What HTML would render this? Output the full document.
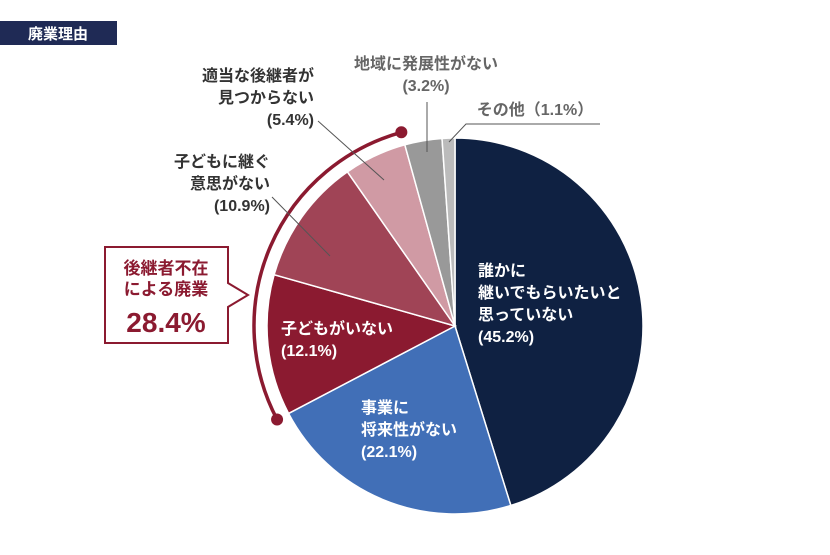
<!DOCTYPE html>
<html><head><meta charset="utf-8">
<style>
body{margin:0;background:#fff;width:830px;height:550px;overflow:hidden;font-family:"Liberation Sans","Noto Sans CJK JP",sans-serif;}
svg text{font-family:"Liberation Sans","Noto Sans CJK JP",sans-serif;font-weight:bold;}
</style></head><body>
<svg width="830" height="550">
<rect x="0" y="21" width="117" height="24" fill="#1f2a55"/>
<text x="58" y="39" fill="#fff" font-size="15" text-anchor="middle">廃業理由</text>
<g id="slices"></g>
</svg>
<script>
const categories=["誰かに継いでもらいたいと思っていない","事業に将来性がない","子どもがいない","子どもに継ぐ意思がない","適当な後継者が見つからない","地域に発展性がない","その他"];
const values=[45.2,22.1,12.1,10.9,5.4,3.2,1.1];
const colors=["#0f2142","#416fb7","#8b1a30","#a04456","#d09aa4","#999999","#bbbbbb"];
const cx=455,cy=326,R=188;
const NS="http://www.w3.org/2000/svg";
const total=values.reduce((a,b)=>a+b,0);
function pt(frac,r){const a=frac*2*Math.PI;return [cx+r*Math.sin(a),cy-r*Math.cos(a)];}
const g=document.getElementById('slices');
let acc=0;const starts=[];
values.forEach((v,i)=>{
 const s=acc/total,e=(acc+v)/total;starts.push(s);acc+=v;
 const p1=pt(s,R),p2=pt(e,R);
 const p=document.createElementNS(NS,'path');
 p.setAttribute('d',`M${cx},${cy}L${p1[0]},${p1[1]}A${R},${R} 0 ${e-s>0.5?1:0} 1 ${p2[0]},${p2[1]}Z`);
 p.setAttribute('fill',colors[i]);p.setAttribute('stroke','#fff');p.setAttribute('stroke-width','1.5');
 
 
 g.appendChild(p);
});
const as=starts[2],ae=starts[4]+values[4]/total,AR=201;
const q1=pt(as,AR),q2=pt(ae,AR);
const arc=document.createElementNS(NS,'path');
arc.setAttribute('d',`M${q1[0]},${q1[1]}A${AR},${AR} 0 0 1 ${q2[0]},${q2[1]}`);
arc.setAttribute('fill','none');arc.setAttribute('stroke','#8b1a30');arc.setAttribute('stroke-width','3.5');


g.appendChild(arc);
[q1,q2].forEach(q=>{const c=document.createElementNS(NS,'circle');c.setAttribute('cx',q[0]);c.setAttribute('cy',q[1]);c.setAttribute('r',6);c.setAttribute('fill','#8b1a30');


g.appendChild(c);});
</script>
<svg width="830" height="550" style="position:absolute;left:0;top:0">
<g stroke="#555" stroke-width="1" fill="none">
<line x1="318" y1="121" x2="384" y2="180"/>
<line x1="272" y1="197" x2="330" y2="256"/>
<line x1="427" y1="102" x2="427" y2="152"/>
<polyline points="449,142 466,124 600,124"/>
</g>
<g font-size="16" fill="#fff">
<text><tspan x="478" y="276">誰かに</tspan><tspan x="478" dy="22">継いでもらいたいと</tspan><tspan x="478" dy="22">思っていない</tspan><tspan x="478" dy="22">(45.2%)</tspan></text>
<text><tspan x="361" y="413">事業に</tspan><tspan x="361" dy="22">将来性がない</tspan><tspan x="361" dy="22">(22.1%)</tspan></text>
<text><tspan x="281" y="334">子どもがいない</tspan><tspan x="281" dy="22">(12.1%)</tspan></text>
</g>
<g font-size="16" fill="#333" text-anchor="end">
<text><tspan x="314" y="81">適当な後継者が</tspan><tspan x="314" y="103">見つからない</tspan><tspan x="314" y="125">(5.4%)</tspan></text>
<text><tspan x="270" y="167">子どもに継ぐ</tspan><tspan x="270" y="189">意思がない</tspan><tspan x="270" y="211">(10.9%)</tspan></text>
</g>
<g font-size="16" fill="#666" text-anchor="middle">
<text><tspan x="426" y="69">地域に発展性がない</tspan><tspan x="426" y="91">(3.2%)</tspan></text>
<text x="535" y="115">その他（1.1%）</text>
</g>
<path d="M105,247 H228 V283 L248,295 L228,307 V343 H105 Z" fill="#fff" stroke="#8b1a30" stroke-width="2"/>
<text font-size="17" fill="#8b1a30" text-anchor="middle"><tspan x="166" y="274">後継者不在</tspan><tspan x="166" dy="21">による廃業</tspan></text>
<text x="166" y="332" font-size="28" fill="#8b1a30" text-anchor="middle" font-weight="normal">28.4%</text>
</svg>
</body></html>
